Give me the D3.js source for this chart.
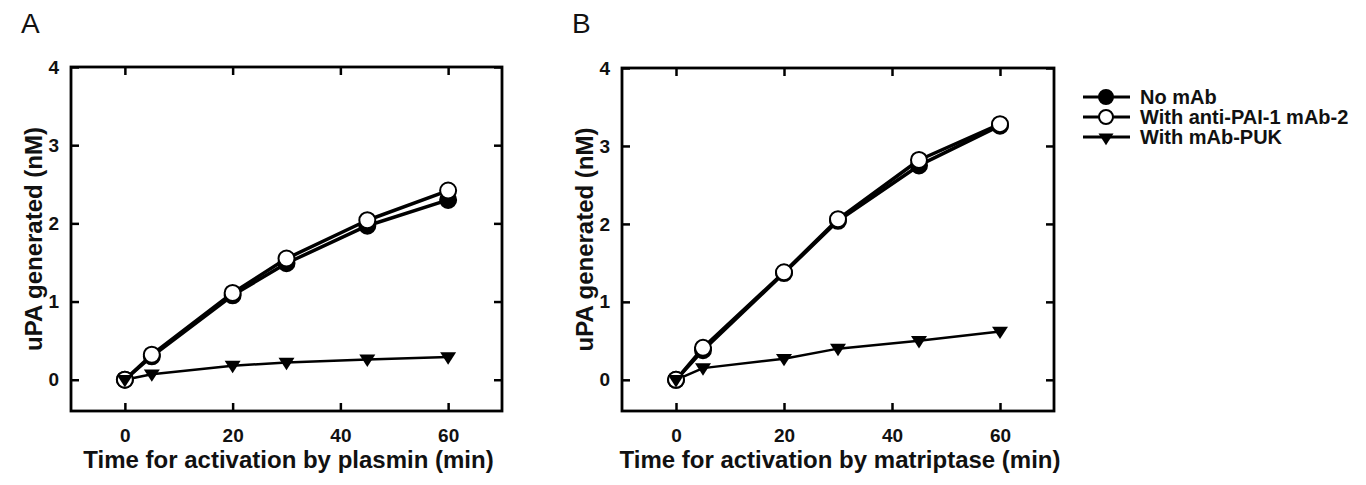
<!DOCTYPE html>
<html lang="en">
  <head>
    <meta charset="utf-8">
    <title>uPA generation</title>
    <script type="text/javascript" src="https://d3js.org/d3.v7.min.js"></script>
    <style>
      body { margin: 0; background: #fff; }
      text { font-family: "Liberation Sans", Arial, sans-serif; fill: #111; }
    </style>
  </head>
  <body>
    <script type="text/javascript">
    var w = 1366;
    var h = 485;

    // data
    var times = [0, 5, 20, 30, 45, 60];
    var seriesNames = ["No mAb", "With anti-PAI-1 mAb-2", "With mAb-PUK"];
    var plasminNoMab = [0, 0.30, 1.08, 1.49, 1.97, 2.30];
    var plasminAntiPai = [0, 0.32, 1.11, 1.55, 2.04, 2.42];
    var plasminPuk = [0, 0.07, 0.18, 0.22, 0.26, 0.29];
    var matriptaseNoMab = [0, 0.38, 1.37, 2.04, 2.75, 3.26];
    var matriptaseAntiPai = [0, 0.41, 1.38, 2.06, 2.82, 3.28];
    var matriptasePuk = [0, 0.15, 0.27, 0.40, 0.50, 0.62];
    var xTicks = [0, 20, 40, 60];
    var yTicks = [0, 1, 2, 3, 4];

    var svg = d3.select("body").append("svg").attr("width", w).attr("height", h)

    var panels = [
      {letter: "A", title: "Time for activation by plasmin (min)", left: 71, right: 502, top: 67,
       data: [plasminNoMab, plasminAntiPai, plasminPuk]},
      {letter: "B", title: "Time for activation by matriptase (min)", left: 622, right: 1054, top: 68,
       data: [matriptaseNoMab, matriptaseAntiPai, matriptasePuk]}
    ];
    var bottom = 411;

    var triangle = function(s) {
      return "M" + (-s) + "," + (-s * 0.6) + "L" + s + "," + (-s * 0.6) + "L0," + (s * 0.95) + "Z";
    }

    var drawMarker = function(g, kind, x, y) {
      if (kind == 2) {
        g.append("path").attr("d", triangle(8))
          .attr("transform", "translate(" + x + "," + y + ")")
          .attr("fill", "#000");
      } else {
        g.append("circle").attr("cx", x).attr("cy", y).attr("r", 8)
          .attr("fill", kind == 0 ? "#000" : "#fff")
          .attr("stroke", "#000").attr("stroke-width", 2);
      }
    }

    panels.forEach(function(p) {
      var xscale = d3.scaleLinear().domain([-10, 70]).range([p.left, p.right]);
      var yscale = d3.scaleLinear().domain([-0.4, 4]).range([bottom, p.top]);
      var g = svg.append("g");

      var xAxis = d3.axisBottom(xscale).tickValues(xTicks).tickSizeInner(-8).tickSizeOuter(0).tickPadding(18).tickFormat(d3.format("d"));
      var xTop = d3.axisTop(xscale).tickValues(xTicks).tickSizeInner(-8).tickSizeOuter(0).tickFormat("");
      var yAxis = d3.axisLeft(yscale).tickValues(yTicks).tickSizeInner(-8).tickSizeOuter(0).tickPadding(12).tickFormat(d3.format("d"));
      var yRight = d3.axisRight(yscale).tickValues(yTicks).tickSizeInner(-8).tickSizeOuter(0).tickFormat("");

      var axes = [
        [xAxis, "translate(0," + bottom + ")"],
        [xTop, "translate(0," + p.top + ")"],
        [yAxis, "translate(" + p.left + ",0)"],
        [yRight, "translate(" + p.right + ",0)"]
      ];
      axes.forEach(function(a) {
        var ag = g.append("g").attr("transform", a[1]).call(a[0]);
        ag.select(".domain").remove();
        ag.selectAll("line").attr("stroke", "#000").attr("stroke-width", 2.5);
        ag.selectAll("text").attr("font-size", 19).attr("font-weight", "bold")
          .attr("font-family", "Liberation Sans, Arial, sans-serif").attr("fill", "#111");
      });

      g.append("rect")
        .attr("x", p.left).attr("y", p.top)
        .attr("width", p.right - p.left).attr("height", bottom - p.top)
        .attr("fill", "none").attr("stroke", "#000").attr("stroke-width", 2.8);

      g.append("text").attr("x", (p.left + p.right) / 2 + 2).attr("y", 468)
        .attr("text-anchor", "middle").attr("font-size", 24).attr("font-weight", "bold")
        .text(p.title);
      g.append("text")
        .attr("transform", "translate(" + (p.left - 29) + "," + ((p.top + bottom) / 2) + ") rotate(-90)")
        .attr("text-anchor", "middle").attr("font-size", 24).attr("font-weight", "bold")
        .text("uPA generated (nM)");
      g.append("text").attr("x", p.left - 50).attr("y", 33)
        .attr("font-size", 28).text(p.letter);

      var line = d3.line().x(function(d, i) { return xscale(times[i]); }).y(function(d) { return yscale(d); });
      p.data.forEach(function(vals, k) {
        g.append("path").datum(vals).attr("d", line)
          .attr("fill", "none").attr("stroke", "#000")
          .attr("stroke-width", k == 2 ? 2.5 : 3.5)
          .attr("stroke-linejoin", "round");
      });
      p.data.forEach(function(vals, k) {
        vals.forEach(function(v, i) {
          drawMarker(g, k, xscale(times[i]), yscale(v));
        });
      });
    });

    // legend
    var legend = svg.append("g");
    seriesNames.forEach(function(name, k) {
      var y = 97 + k * 20;
      legend.append("line").attr("x1", 1083).attr("x2", 1130).attr("y1", y).attr("y2", y)
        .attr("stroke", "#000").attr("stroke-width", 3);
      if (k == 2) {
        legend.append("path").attr("d", triangle(7.5)).attr("transform", "translate(1106," + (y + 1) + ")");
      } else {
        legend.append("circle").attr("cx", 1106).attr("cy", y).attr("r", 7)
          .attr("fill", k == 0 ? "#000" : "#fff").attr("stroke", "#000").attr("stroke-width", 2);
      }
      legend.append("text").attr("x", 1140).attr("y", y + 6.5)
        .attr("font-size", 20).attr("font-weight", "bold").text(name);
    });
    </script>
  </body>
</html>
